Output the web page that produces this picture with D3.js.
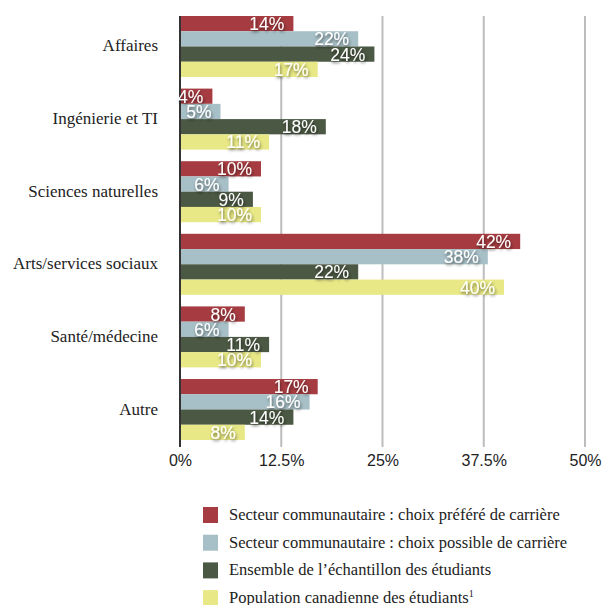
<!DOCTYPE html>
<html><head><meta charset="utf-8">
<script src="https://cdn.jsdelivr.net/npm/d3@7"></script>
<style>body{margin:0;background:#fff}
.serif{font-family:"Liberation Serif","Times New Roman","DejaVu Serif",serif}
.sans{font-family:"Liberation Sans",Arial,Helvetica,sans-serif}
</style>
</head><body>
<svg id="c" width="602" height="605"></svg>
<script>
const categories = ["Affaires","Ingénierie et TI","Sciences naturelles","Arts/services sociaux","Santé/médecine","Autre"];
const seriesNames = ["Secteur communautaire : choix préféré de carrière","Secteur communautaire : choix possible de carrière","Ensemble de l’échantillon des étudiants","Population canadienne des étudiants"];
const preferred = [14,4,10,42,8,17];
const possible = [22,5,6,38,6,16];
const sample = [24,18,9,22,11,14];
const population = [17,11,10,40,10,8];
const tickValues = [0,12.5,25,37.5,50];
const tickLabels = ["0%","12.5%","25%","37.5%","50%"];
const colors = ["#a63c41","#a7bfc6","#4b5843","#e8e886"];
const series = [preferred,possible,sample,population];

const svg = d3.select("#c");
const defs = svg.append("defs");
const f = defs.append("filter").attr("id","sh").attr("x","-20%").attr("y","-30%").attr("width","140%").attr("height","160%");
f.append("feDropShadow").attr("dx",1).attr("dy",2).attr("stdDeviation",1.6).attr("flood-color","#000").attr("flood-opacity",0.55);

const x = d3.scaleLinear().domain([0,50]).range([180,585]);
const y0 = d3.scaleBand().domain(categories).range([16,440]).paddingInner(0.16).paddingOuter(0);
const y1 = d3.scaleBand().domain(d3.range(4)).range([0,y0.bandwidth()]);

// gridlines
svg.append("g").selectAll("line").data(tickValues.slice(1)).join("line")
  .attr("x1",d=>x(d)).attr("x2",d=>x(d)).attr("y1",16).attr("y2",447)
  .attr("stroke","#bdbdbd").attr("stroke-width",2);

// bars
const g = svg.append("g");
categories.forEach((c,i)=>{
  series.forEach((s,j)=>{
    g.append("rect").attr("x",x(0)).attr("y",y0(c)+y1(j))
      .attr("width",x(s[i])-x(0)).attr("height",y1.bandwidth()).attr("fill",colors[j]);
  });
});
// axis line
svg.append("line").attr("x1",x(0)).attr("x2",x(0)).attr("y1",16).attr("y2",447).attr("stroke","#333").attr("stroke-width",2);

// value labels
categories.forEach((c,i)=>{
  series.forEach((s,j)=>{
    svg.append("text").attr("class","sans").attr("x",x(s[i])-9).attr("y",y0(c)+y1(j)+y1.bandwidth()/2+6.5)
      .attr("text-anchor","end").attr("fill","#fff")
      .attr("font-size",17.5).attr("filter","url(#sh)").text(s[i]+"%");
  });
});

// category labels
svg.append("g").selectAll("text").data(categories).join("text")
  .attr("class","serif")
  .attr("x",158).attr("y",d=>y0(d)+y0.bandwidth()/2+5)
  .attr("text-anchor","end")
  .attr("font-size",17).attr("fill","#222").text(d=>d);

// x axis
const xa = svg.append("g").attr("transform","translate(0,447)")
  .call(d3.axisBottom(x).tickValues(tickValues).tickFormat((d,i)=>tickLabels[i]).tickSize(0).tickPadding(8));
xa.select(".domain").remove();
xa.selectAll("text").attr("class","sans").attr("font-family",null).attr("font-size",16).attr("fill","#222");

// legend
const lg = svg.append("g");
seriesNames.forEach((n,j)=>{
  const yy = 507 + j*27.7;
  lg.append("rect").attr("x",203).attr("y",yy).attr("width",15).attr("height",16).attr("fill",colors[j]);
  const t = lg.append("text").attr("class","serif").attr("x",229).attr("y",yy+13)
    .attr("font-size",16.5).attr("fill","#222").text(n);
  if(j===3) t.append("tspan").attr("font-size",10).attr("dy",-6).text("1");
});
</script>
</body></html>
